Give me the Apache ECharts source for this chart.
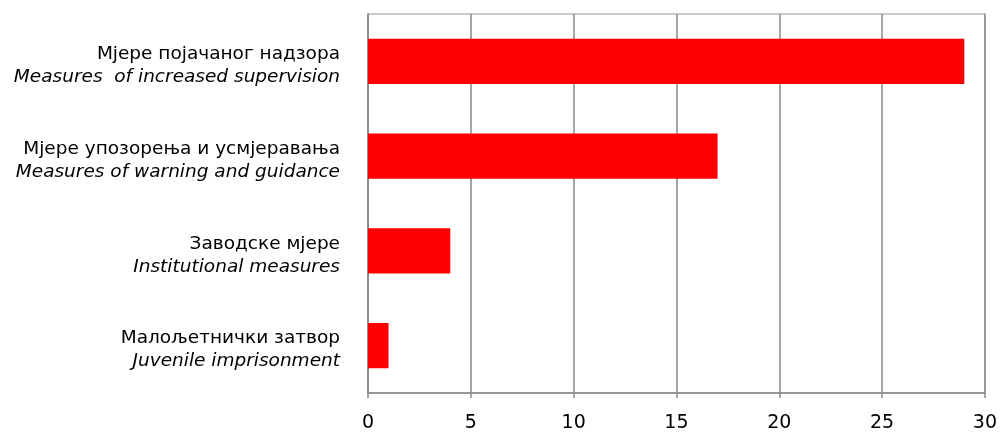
<!DOCTYPE html>
<html><head><meta charset="utf-8">
<script src="https://cdn.jsdelivr.net/npm/echarts@6/dist/echarts.min.js"></script>
<style>html,body{margin:0;padding:0;background:#fff}#c{width:1000px;height:433px}</style>
</head><body><div id="c"></div>
<script>
const categoriesSr = ['Мјере појачаног надзора','Мјере упозорења и усмјеравања','Заводске мјере','Малољетнички затвор'];
const categoriesEn = ['Measures  of increased supervision','Measures of warning and guidance','Institutional measures','Juvenile imprisonment'];
const values = [29, 17, 4, 1];
const xTicks = [0, 5, 10, 15, 20, 25, 30];

const labels = categoriesSr.map((s, i) => s + '\n' + categoriesEn[i]);
const chart = echarts.init(document.getElementById('c'));
chart.setOption({
  animation: false,
  grid: { left: 368, right: 15, top: 14, bottom: 39, show: true, borderColor: '#b8b8b8', borderWidth: 1.5, containLabel: false },
  xAxis: {
    type: 'value', min: xTicks[0], max: xTicks[xTicks.length - 1], interval: 5,
    axisLine: { show: true, lineStyle: { color: '#888', width: 1.5 } },
    axisTick: { show: true, length: 5, lineStyle: { color: '#888', width: 1.5 } },
    splitLine: { show: true, lineStyle: { color: '#888', width: 1.5 } },
    axisLabel: { color: '#000', fontFamily: 'DejaVu Sans', fontSize: 19, margin: 21 }
  },
  yAxis: {
    type: 'category', inverse: true, data: labels,
    axisLine: { show: true, lineStyle: { color: '#888', width: 1.5 } },
    axisTick: { show: false },
    axisLabel: {
      margin: 28, align: 'right', padding: [9, 0, 0, 0],
      formatter: function (v) { const p = v.split('\n'); return '{a|' + p[0] + '}\n{b|' + p[1] + '}'; },
      rich: {
        a: { color: '#000', fontFamily: 'DejaVu Sans', fontSize: 18.5, lineHeight: 23, align: 'right' },
        b: { color: '#000', fontFamily: 'DejaVu Sans', fontStyle: 'italic', fontSize: 18.5, lineHeight: 23, align: 'right' }
      }
    }
  },
  series: [{
    type: 'bar', data: values, barWidth: '48%',
    itemStyle: { color: '#ff0000' }
  }]
});
</script></body></html>
